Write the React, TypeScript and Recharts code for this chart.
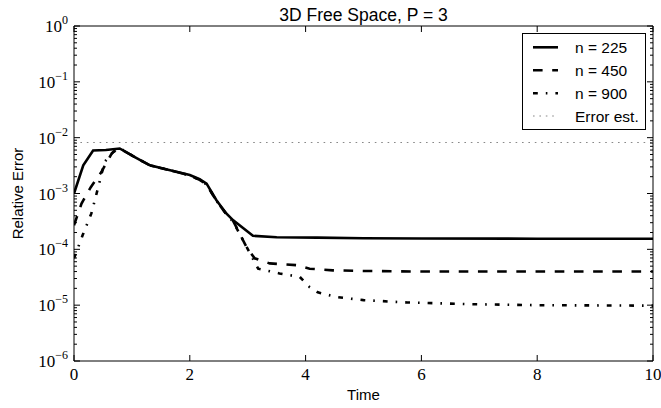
import React from "react";
import { LineChart, Line, XAxis, YAxis, ReferenceLine, Label } from "recharts";

const W = 661;
const H = 408;
const MARGIN = { top: 26, right: 8, left: 0, bottom: 0 };
const Y_AXIS_W = 74;
const X_AXIS_H = 47;
const PLOT_LEFT = MARGIN.left + Y_AXIS_W;
const PLOT_RIGHT = W - MARGIN.right;
const PLOT_TOP = MARGIN.top;
const PLOT_BOTTOM = H - X_AXIS_H;

const TITLE = "3D Free Space, P = 3";
const X_LABEL = "Time";
const Y_LABEL = "Relative Error";

const X_TICKS = [0, 2, 4, 6, 8, 10];
const Y_MAJOR_TICKS = [1e-6, 1e-5, 1e-4, 1e-3, 1e-2, 1e-1, 1];
const Y_MINOR_MULT = [2, 3, 4, 5, 6, 7, 8, 9];
const Y_TICKS: number[] = [];
for (let i = 0; i < Y_MAJOR_TICKS.length; i++) {
  Y_TICKS.push(Y_MAJOR_TICKS[i]);
  if (i < Y_MAJOR_TICKS.length - 1) {
    for (const m of Y_MINOR_MULT) Y_TICKS.push(m * Y_MAJOR_TICKS[i]);
  }
}

const ERROR_EST = 8.2e-3;

const n225 = [
  { t: 0, e: 1.0e-3 },
  { t: 0.16, e: 3.2e-3 },
  { t: 0.33, e: 5.9e-3 },
  { t: 0.55, e: 6.0e-3 },
  { t: 0.79, e: 6.4e-3 },
  { t: 1.05, e: 4.5e-3 },
  { t: 1.31, e: 3.2e-3 },
  { t: 1.66, e: 2.6e-3 },
  { t: 2.0, e: 2.15e-3 },
  { t: 2.17, e: 1.8e-3 },
  { t: 2.29, e: 1.5e-3 },
  { t: 2.46, e: 7.6e-4 },
  { t: 2.63, e: 4.4e-4 },
  { t: 2.75, e: 3.3e-4 },
  { t: 3.09, e: 1.75e-4 },
  { t: 3.5, e: 1.65e-4 },
  { t: 4.2, e: 1.62e-4 },
  { t: 5, e: 1.58e-4 },
  { t: 6, e: 1.56e-4 },
  { t: 8, e: 1.55e-4 },
  { t: 10, e: 1.55e-4 },
];

const n450 = [
  { t: 0, e: 2.7e-4 },
  { t: 0.13, e: 6.6e-4 },
  { t: 0.29, e: 1.3e-3 },
  { t: 0.47, e: 2.4e-3 },
  { t: 0.65, e: 5.2e-3 },
  { t: 0.74, e: 6.2e-3 },
  { t: 0.79, e: 6.4e-3 },
  { t: 1.05, e: 4.5e-3 },
  { t: 1.31, e: 3.2e-3 },
  { t: 1.66, e: 2.6e-3 },
  { t: 2.0, e: 2.12e-3 },
  { t: 2.17, e: 1.75e-3 },
  { t: 2.29, e: 1.45e-3 },
  { t: 2.46, e: 7.4e-4 },
  { t: 2.63, e: 4.3e-4 },
  { t: 2.75, e: 3.2e-4 },
  { t: 2.98, e: 1.1e-4 },
  { t: 3.12, e: 6.9e-5 },
  { t: 3.38, e: 5.6e-5 },
  { t: 3.84, e: 5.2e-5 },
  { t: 4.07, e: 4.5e-5 },
  { t: 4.47, e: 4.2e-5 },
  { t: 5, e: 4.1e-5 },
  { t: 6, e: 4.0e-5 },
  { t: 8, e: 4.0e-5 },
  { t: 10, e: 4.0e-5 },
];

const n900 = [
  { t: 0, e: 6.9e-5 },
  { t: 0.15, e: 1.8e-4 },
  { t: 0.3, e: 4.4e-4 },
  { t: 0.39, e: 1.0e-3 },
  { t: 0.44, e: 1.6e-3 },
  { t: 0.53, e: 3.7e-3 },
  { t: 0.68, e: 5.6e-3 },
  { t: 0.8, e: 6.4e-3 },
  { t: 1.05, e: 4.5e-3 },
  { t: 1.31, e: 3.2e-3 },
  { t: 1.66, e: 2.6e-3 },
  { t: 2.0, e: 2.12e-3 },
  { t: 2.17, e: 1.75e-3 },
  { t: 2.29, e: 1.45e-3 },
  { t: 2.46, e: 7.4e-4 },
  { t: 2.63, e: 4.3e-4 },
  { t: 2.75, e: 3.1e-4 },
  { t: 2.92, e: 1.45e-4 },
  { t: 3.18, e: 4.5e-5 },
  { t: 3.55, e: 3.7e-5 },
  { t: 3.9, e: 3.2e-5 },
  { t: 4.07, e: 2.1e-5 },
  { t: 4.21, e: 1.7e-5 },
  { t: 4.53, e: 1.4e-5 },
  { t: 5.0, e: 1.23e-5 },
  { t: 5.74, e: 1.12e-5 },
  { t: 6.88, e: 1.04e-5 },
  { t: 8, e: 1.0e-5 },
  { t: 10, e: 9.8e-6 },
];

const SERIES = [
  { name: "n = 225", data: n225, dash: undefined as string | undefined },
  { name: "n = 450", data: n450, dash: "9.6 9.6" },
  { name: "n = 900", data: n900, dash: "4.8 8 1.6 8" },
];
const LINE_W = 2.6;
const EST_COLOR = "#888888";
const EST_DASH = "1.6 4.8";

const SANS = "'Liberation Sans', Arial, Helvetica, sans-serif";
const SERIF = "'Liberation Serif', 'DejaVu Serif', serif";

const YTick = (props: any) => {
  const { y, payload } = props;
  const v = payload.value as number;
  const lg = Math.log10(v);
  const exp = Math.round(lg);
  const major = Math.abs(lg - exp) < 1e-6;
  const len = major ? 6 : 3;
  const expStr = exp < 0 ? "\u2212" + Math.abs(exp) : String(exp);
  return (
    <g>
      <line x1={PLOT_LEFT} x2={PLOT_LEFT + len} y1={y} y2={y} stroke="#000" strokeWidth={1} />
      <line x1={PLOT_RIGHT} x2={PLOT_RIGHT - len} y1={y} y2={y} stroke="#000" strokeWidth={1} />
      {major && (
        <text x={PLOT_LEFT - 6} y={y + 6} textAnchor="end" fontFamily={SERIF} fontSize={17} fill="#000">
          10
          <tspan dy={-8} fontSize={12}>
            {expStr}
          </tspan>
        </text>
      )}
    </g>
  );
};

const XTick = (props: any) => {
  const { x, payload } = props;
  return (
    <g>
      <line x1={x} x2={x} y1={PLOT_BOTTOM} y2={PLOT_BOTTOM - 6} stroke="#000" strokeWidth={1} />
      <line x1={x} x2={x} y1={PLOT_TOP} y2={PLOT_TOP + 6} stroke="#000" strokeWidth={1} />
      <text x={x} y={PLOT_BOTTOM + 19} textAnchor="middle" fontFamily={SERIF} fontSize={17} fill="#000">
        {payload.value}
      </text>
    </g>
  );
};

const YLabel = (props: any) => {
  const vb = props.viewBox || {};
  const cy = (vb.y ?? PLOT_TOP) + (vb.height ?? PLOT_BOTTOM - PLOT_TOP) / 2;
  const cx = 23;
  return (
    <text
      x={cx}
      y={cy}
      transform={`rotate(-90 ${cx} ${cy})`}
      textAnchor="middle"
      fontFamily={SANS}
      fontSize={15}
      fill="#000"
    >
      {Y_LABEL}
    </text>
  );
};

const LegendBox = () => {
  const rowY = [14.3, 37.3, 60.3, 83];
  const items = [
    ...SERIES.map((s) => ({ name: s.name, color: "#000", dash: s.dash, w: LINE_W })),
    { name: "Error est.", color: EST_COLOR, dash: EST_DASH, w: 1.2 },
  ];
  return (
    <div style={{ position: "absolute", left: 522, top: 33 }}>
      <svg width={125} height={98}>
        <rect x={0.5} y={0.5} width={123} height={96} fill="#fff" stroke="#000" strokeWidth={1} />
        {items.map((it, i) => (
          <g key={it.name}>
            <line
              x1={11}
              x2={36}
              y1={rowY[i]}
              y2={rowY[i]}
              stroke={it.color}
              strokeWidth={it.w}
              strokeDasharray={it.dash}
            />
            <text x={53} y={rowY[i] + 5.5} fontFamily={SANS} fontSize={15.5} fill="#000">
              {it.name}
            </text>
          </g>
        ))}
      </svg>
    </div>
  );
};

export default function App() {
  return (
    <div style={{ position: "absolute", left: 0, top: 0, width: W, height: H, background: "#fff" }}>
      <LineChart width={W} height={H} margin={MARGIN}>
        <XAxis
          type="number"
          dataKey="t"
          domain={[0, 10]}
          ticks={X_TICKS}
          interval={0}
          allowDataOverflow
          height={X_AXIS_H}
          tickLine={false}
          axisLine={{ stroke: "#000", strokeWidth: 1 }}
          tick={<XTick />}
        >
          <Label value={X_LABEL} position="insideBottom" offset={8} fontFamily={SANS} fontSize={15} fill="#000" />
        </XAxis>
        <YAxis
          type="number"
          scale="log"
          domain={[1e-6, 1]}
          ticks={Y_TICKS}
          interval={0}
          allowDataOverflow
          width={Y_AXIS_W}
          tickLine={false}
          axisLine={{ stroke: "#000", strokeWidth: 1 }}
          tick={<YTick />}
        >
          <Label content={<YLabel />} />
        </YAxis>
        <ReferenceLine y={ERROR_EST} stroke={EST_COLOR} strokeWidth={1.2} strokeDasharray={EST_DASH} />
        {SERIES.map((s) => (
          <Line
            key={s.name}
            data={s.data}
            dataKey="e"
            type="linear"
            stroke="#000"
            strokeWidth={LINE_W}
            strokeDasharray={s.dash}
            dot={false}
            activeDot={false}
            isAnimationActive={false}
          />
        ))}
        <ReferenceLine y={1} stroke="#000" strokeWidth={1}>
          <Label value={TITLE} position="top" offset={5} fontFamily={SANS} fontSize={17.5} fill="#000" />
        </ReferenceLine>
        <ReferenceLine x={10} stroke="#000" strokeWidth={1} />
      </LineChart>
      <LegendBox />
    </div>
  );
}
